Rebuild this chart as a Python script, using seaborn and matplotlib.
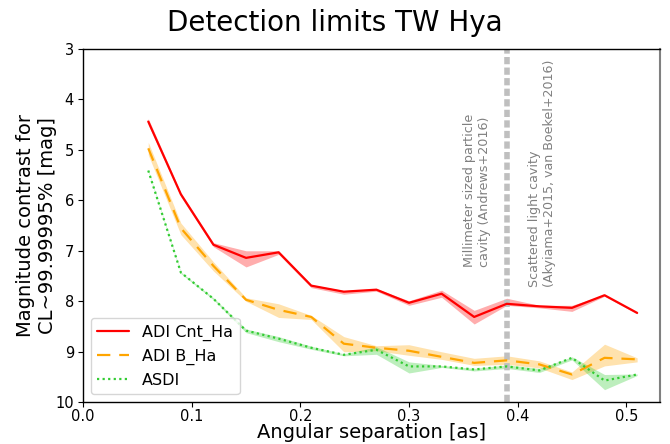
import numpy as np
import pandas as pd
import matplotlib
matplotlib.use("Agg")
import matplotlib.pyplot as plt
import seaborn as sns

# Angular separations of the contrast curves [arcsec]
separation = [0.06, 0.09, 0.12, 0.15, 0.18, 0.21, 0.24, 0.27,
              0.30, 0.33, 0.36, 0.39, 0.42, 0.45, 0.48, 0.51]

# ADI Cnt_Ha contrast and its spread
cnt_ha = [4.44, 5.88, 6.88, 7.14, 7.03, 7.69, 7.81, 7.77,
          8.03, 7.85, 8.31, 8.05, 8.10, 8.13, 7.88, 8.23]
cnt_ha_lo = [4.38, 5.85, 6.84, 7.00, 7.00, 7.67, 7.79, 7.75,
             7.99, 7.78, 8.18, 7.94, 8.08, 8.08, 7.87, 8.22]
cnt_ha_hi = [4.50, 5.93, 6.92, 7.32, 7.07, 7.73, 7.86, 7.80,
             8.08, 7.92, 8.45, 8.08, 8.13, 8.20, 7.90, 8.25]

# ADI B_Ha contrast and its spread
b_ha = [4.97, 6.55, 7.30, 7.97, 8.17, 8.31, 8.84, 8.92,
        8.98, 9.10, 9.22, 9.17, 9.25, 9.45, 9.12, 9.15]
b_ha_lo = [4.85, 6.45, 7.22, 7.93, 8.05, 8.28, 8.70, 8.88,
           8.86, 9.00, 9.13, 9.08, 9.18, 9.40, 8.85, 9.12]
b_ha_hi = [5.10, 6.68, 7.40, 8.00, 8.32, 8.36, 9.00, 8.98,
           9.07, 9.15, 9.27, 9.25, 9.32, 9.55, 9.28, 9.20]

# ASDI contrast and its spread
asdi = [5.41, 7.43, 7.95, 8.58, 8.74, 8.92, 9.06, 8.96,
        9.29, 9.29, 9.35, 9.29, 9.37, 9.12, 9.57, 9.45]
asdi_lo = [5.40, 7.42, 7.93, 8.55, 8.70, 8.89, 9.04, 8.90,
           9.20, 9.27, 9.33, 9.26, 9.33, 9.10, 9.45, 9.44]
asdi_hi = [5.43, 7.45, 7.97, 8.62, 8.80, 8.95, 9.08, 9.05,
           9.42, 9.31, 9.38, 9.33, 9.41, 9.16, 9.75, 9.47]

series_names = ["ADI Cnt_Ha", "ADI B_Ha", "ASDI"]

# Cavity radii from the literature [arcsec]
cavity_sep = 0.39
cavity_labels = ["Millimeter sized particle\ncavity (Andrews+2016)",
                 "Scattered light cavity\n(Akyiama+2015, van Boekel+2016)"]

sns.set_style("white")
plt.rcParams["font.family"] = ["DejaVu Sans"]
plt.rcParams["text.color"] = "black"
plt.rcParams["axes.labelcolor"] = "black"
plt.rcParams["xtick.color"] = "black"
plt.rcParams["ytick.color"] = "black"

fig, ax = plt.subplots(figsize=(6.7, 4.44), dpi=100)
fig.subplots_adjust(left=0.124, right=0.985, top=0.89, bottom=0.094)

styles = [
    (cnt_ha, cnt_ha_lo, cnt_ha_hi, "red", "-"),
    (b_ha, b_ha_lo, b_ha_hi, "orange", (0, (6, 4))),
    (asdi, asdi_lo, asdi_hi, "#33cc33", (0, (1, 1.5))),
]

for name, (vals, lo, hi, color, ls) in zip(series_names, styles):
    ax.fill_between(separation, lo, hi, color=color, alpha=0.32, lw=0)
    df = pd.DataFrame({"sep": separation, "mag": vals})
    sns.lineplot(data=df, x="sep", y="mag", ax=ax, color=color,
                 linestyle=ls, lw=1.6, label=name)

ax.axvline(cavity_sep, color="#bfbfbf", lw=4, linestyle=(0, (1.3, 0.6)),
           zorder=1)
ax.text(0.350, 7.32, cavity_labels[0], rotation=90, ha="left", va="bottom",
        color="gray", fontsize=9.2)
ax.text(0.410, 7.72, cavity_labels[1], rotation=90, ha="left", va="bottom",
        color="gray", fontsize=9.1)

ax.set_xlim(0.0, 0.531)
ax.set_ylim(10, 3)
ax.set_xticks([0.0, 0.1, 0.2, 0.3, 0.4, 0.5])
ax.set_yticks(range(3, 11))
ax.tick_params(axis="both", labelsize=10.5, length=3.5, direction="out",
               left=True, bottom=True, pad=1.5)
ax.tick_params(axis="y", pad=3)

ax.set_xlabel("Angular separation [as]", fontsize=14)
ax.xaxis.set_label_coords(0.5, -0.060)
ax.set_ylabel("Magnitude contrast for\nCL~99.99995% [mag]", fontsize=14)
ax.yaxis.set_label_coords(-0.045, 0.5)
fig.suptitle("Detection limits TW Hya", fontsize=20, x=0.5, y=0.98)

for side in ["left", "bottom", "top"]:
    ax.spines[side].set_color("black")
    ax.spines[side].set_linewidth(1.0)
ax.spines["right"].set_color("gray")
ax.spines["right"].set_linewidth(1.5)

ax.legend(loc="lower left", fontsize=11.5, frameon=True, handlelength=2.0,
          borderaxespad=0.5)

fig.savefig("out.png", dpi=100)
